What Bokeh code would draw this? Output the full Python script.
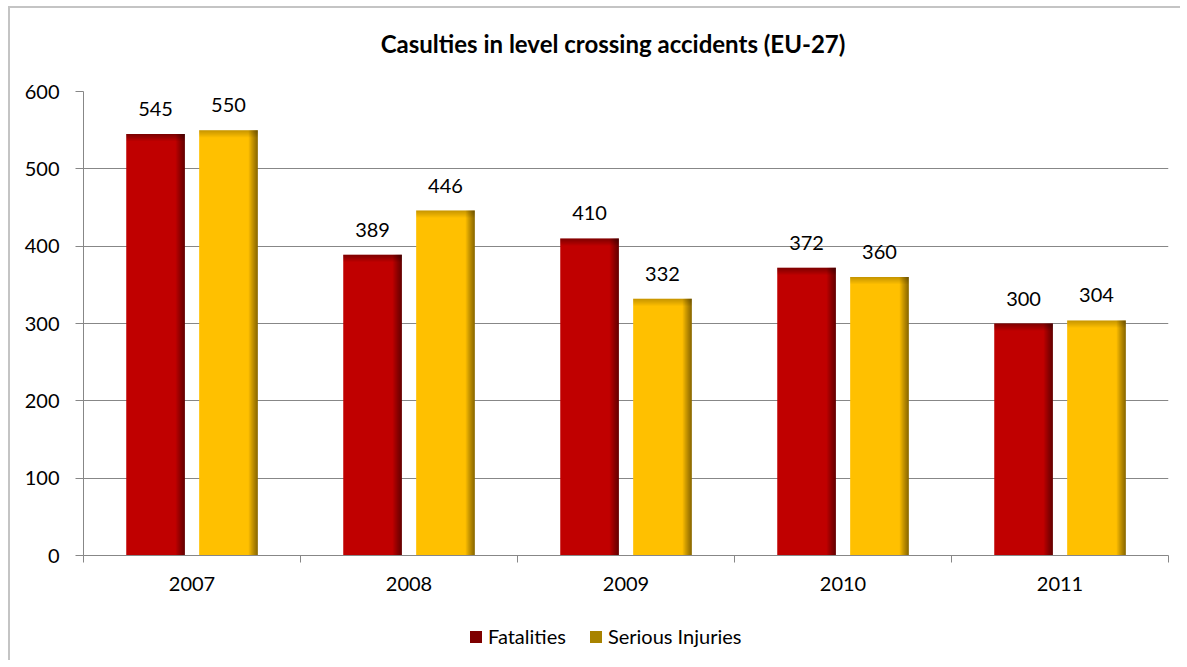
from bokeh.plotting import figure
from bokeh.layouts import column
from bokeh.models import (ColumnDataSource, FixedTicker, LabelSet, Label, Legend,
                          LegendItem, Range1d)
from bokeh.transform import dodge
from bokeh.core.properties import value
from bokeh.embed import file_html
from bokeh.resources import INLINE

# ---- data ----
years = ["2007", "2008", "2009", "2010", "2011"]
fatalities = [545, 389, 410, 372, 300]
serious_injuries = [550, 446, 332, 360, 304]
y_ticks = [0, 100, 200, 300, 400, 500, 600]
series_names = ["Fatalities", "Serious Injuries"]
title_text = "Casulties in level crossing accidents (EU-27)"

# ---- style ----
FONT = "Lato"
FS = "20px"
GRAY = "#878787"
RED = "#C00000"
GOLD = "#FFC000"
BAR_W = 0.27
OFFS = [-0.168, 0.168]
UX = 1.0 / 217.0      # x units per pixel
UY = 600.0 / 464.0    # y units per pixel
W = 1170

pos = list(range(1, len(years) + 1))
source = ColumnDataSource(dict(
    x=pos,
    fat=fatalities,
    inj=serious_injuries,
    fat_txt=[str(v) for v in fatalities],
    inj_txt=[str(v) for v in serious_injuries],
))


def bare(h, xr, yr):
    f = figure(width=W, height=h, x_range=xr, y_range=yr,
               output_backend="svg", toolbar_location=None,
               x_axis_type=None, y_axis_type=None,
               min_border_left=0, min_border_right=0, min_border_top=0, min_border_bottom=0)
    f.outline_line_color = None
    f.xgrid.visible = False
    f.ygrid.visible = False
    f.background_fill_color = "white"
    f.border_fill_color = "white"
    return f


# ---- title strip ----
TH = 68
pt = bare(TH, Range1d(0, W), Range1d(TH, 0))
pt.add_layout(Label(x=571, y=35, text=title_text, text_align="center", text_baseline="middle",
                    text_font=FONT, text_font_style="bold", text_font_size="24px",
                    text_color="black"))

# ---- main chart ----
p = figure(width=W, height=534,
           x_range=Range1d(0.5, len(years) + 0.5), y_range=Range1d(y_ticks[0], y_ticks[-1]),
           output_backend="svg", toolbar_location=None,
           min_border_left=73, min_border_right=12, min_border_top=15, min_border_bottom=55)
p.outline_line_color = None
p.background_fill_color = "white"
p.border_fill_color = "white"

p.xgrid.visible = False
p.ygrid.ticker = FixedTicker(ticks=y_ticks)
p.ygrid.grid_line_color = GRAY
p.ygrid.grid_line_width = 1

ya = p.yaxis[0]
ya.ticker = FixedTicker(ticks=y_ticks)
ya.axis_line_color = GRAY
ya.major_tick_line_color = GRAY
ya.major_tick_out = 8
ya.major_tick_in = 0
ya.minor_tick_line_color = None
ya.major_label_standoff = 16
ya.major_label_text_font = FONT
ya.major_label_text_font_size = FS
ya.major_label_text_color = "black"

xa = p.xaxis[0]
xa.ticker = FixedTicker(ticks=pos, minor_ticks=[i + 0.5 for i in range(len(years) + 1)])
xa.major_label_overrides = {i + 1: y for i, y in enumerate(years)}
xa.axis_line_color = GRAY
xa.major_tick_line_color = None
xa.major_tick_out = 0
xa.major_tick_in = 0
xa.minor_tick_line_color = GRAY
xa.minor_tick_out = 7
xa.minor_tick_in = 0
xa.major_label_standoff = 14
xa.major_label_text_font = FONT
xa.major_label_text_font_size = FS
xa.major_label_text_color = "black"


def draw_series(field, txt, offset, color, top_max):
    p.vbar(x=dodge("x", offset), top=field, bottom=0, width=BAR_W,
           fill_color=color, line_color=None, source=source)
    # right-edge shading
    n = 9
    for i in range(n):
        a = 0.5 * (i + 1) / n
        xo = offset + BAR_W / 2 - (n - i - 0.5) * UX
        p.vbar(x=dodge("x", xo), top=field, bottom=0, width=UX,
               fill_color="black", fill_alpha=a, line_color=None, source=source)
    # top-edge shading
    m = 7
    for j in range(m):
        a = top_max * (m - j) / m
        p.vbar(x=dodge("x", offset), top=dodge(field, -j * UY), bottom=dodge(field, -(j + 1) * UY),
               width=BAR_W, fill_color="black", fill_alpha=a, line_color=None, source=source)
    p.add_layout(LabelSet(x=dodge("x", offset), y=field, text=txt, source=source,
                          text_align="center", text_baseline="alphabetic", y_offset=18,
                          text_font=value(FONT), text_font_size=value(FS), text_color="black"))


draw_series("fat", "fat_txt", OFFS[0], RED, 0.35)
draw_series("inj", "inj_txt", OFFS[1], GOLD, 0.22)

# ---- legend strip ----
LH = 50
pl = bare(LH, Range1d(0.5, len(years) + 0.5), Range1d(y_ticks[0], y_ticks[-1]))
leg_r = []
for field, off, col in (("fat", OFFS[0], "#7E0000"), ("inj", OFFS[1], "#A88300")):
    r = pl.vbar(x=dodge("x", off), top=field, bottom=0, width=BAR_W,
                fill_color=col, line_color=None, source=source)
    r.visible = False
    leg_r.append(r)

legend = Legend(items=[LegendItem(label=series_names[0], renderers=[leg_r[0]]),
                       LegendItem(label=series_names[1], renderers=[leg_r[1]])],
                orientation="horizontal", location=(385, 12),
                border_line_color=None, background_fill_alpha=0,
                glyph_width=15, glyph_height=15, label_standoff=5, spacing=22,
                padding=0, margin=0, inactive_fill_alpha=0,
                label_text_font=FONT, label_text_font_size=FS, label_text_color="black")
pl.add_layout(legend, "center")

layout = column(pt, p, pl, spacing=0)
layout.styles = {"margin-left": "8px", "margin-top": "6px",
                 "border-left": "2px solid #C4C4C4", "border-top": "2px solid #C4C4C4"}

open("out.html", "w").write(file_html(layout, INLINE))
